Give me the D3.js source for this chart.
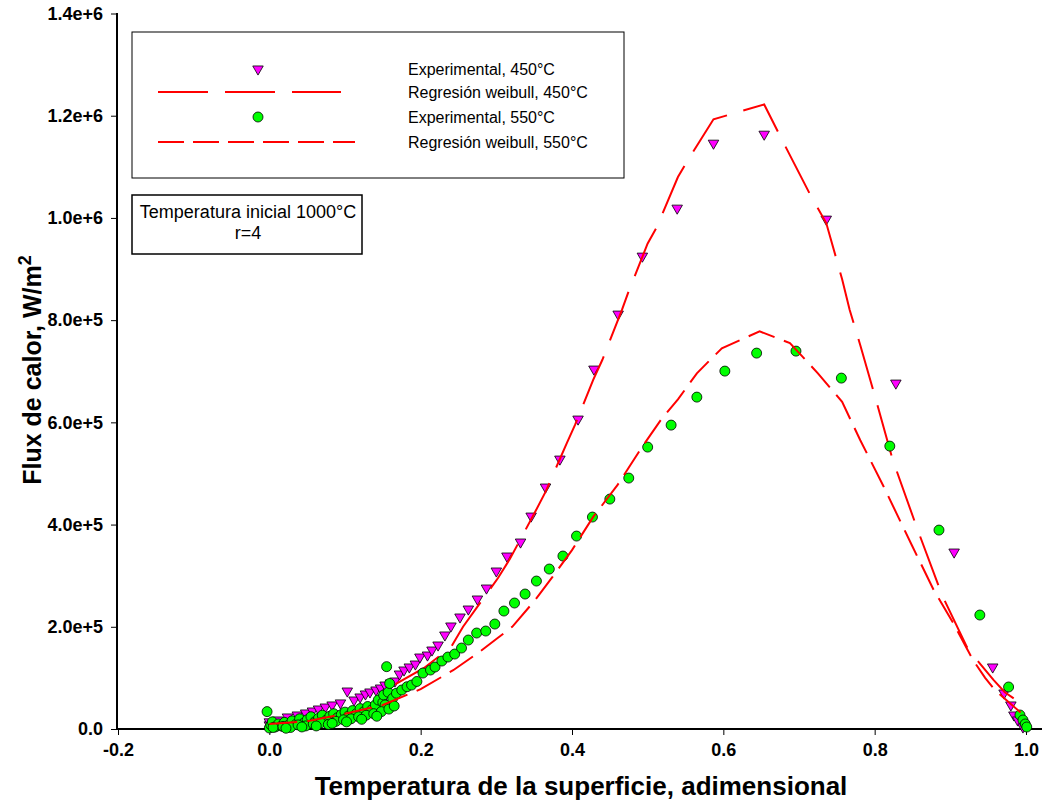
<!DOCTYPE html>
<html>
<head>
<meta charset="utf-8">
<script src="https://cdn.jsdelivr.net/npm/d3@7"></script>
<style>
  html, body { margin: 0; padding: 0; background: #fff; }
  svg { display: block; font-family: "Liberation Sans", Arial, sans-serif; }
</style>
</head>
<body>
<svg id="chart" width="1042" height="800"></svg>
<script>
// ---------------- data ----------------
const xTicks = [-0.2, 0.0, 0.2, 0.4, 0.6, 0.8, 1.0];
const yTicks = [0, 2e5, 4e5, 6e5, 8e5, 1.0e6, 1.2e6, 1.4e6];

const legendLabels = ["Experimental, 450°C", "Regresión weibull, 450°C", "Experimental, 550°C", "Regresión weibull, 550°C"];
const noteLines = ["Temperatura inicial 1000°C", "r=4"];
const xTitle = "Temperatura de la superficie, adimensional";

// Experimental 450°C (triangles)
const exp450X = [0.000, 0.000, 0.011, 0.024, 0.037, 0.048, 0.057, 0.065, 0.074, 0.083, 0.094, 0.103, 0.112, 0.120, 0.127, 0.133, 0.141, 0.147, 0.153, 0.160, 0.166, 0.172, 0.178, 0.185, 0.193, 0.199, 0.209, 0.215, 0.223, 0.232, 0.240, 0.252, 0.263, 0.275, 0.287, 0.300, 0.314, 0.332, 0.346, 0.365, 0.384, 0.408, 0.429, 0.461, 0.493, 0.539, 0.587, 0.654, 0.736, 0.828, 0.905, 0.956, 0.971, 0.980, 0.984, 0.989, 0.996];
const exp450Y = [8000, 14000, 17600, 23500, 27400, 31300, 35200, 39100, 43000, 47000, 51000, 74300, 56700, 62600, 68500, 72400, 76300, 80200, 86000, 90000, 93900, 107600, 115400, 121300, 127100, 140800, 144700, 154500, 164300, 183900, 201500, 219100, 234700, 254300, 275800, 309100, 338400, 365800, 416600, 473400, 528100, 606400, 704200, 811800, 925200, 1019100, 1146200, 1163800, 997600, 676800, 346200, 121300, 70400, 47000, 27400, 17600, 3900];

// Experimental 550°C (circles)
const exp550X = [-0.003, 0.000, 0.002, 0.004, 0.008, 0.012, 0.016, 0.020, 0.025, 0.030, 0.035, 0.040, 0.045, 0.050, 0.055, 0.060, 0.065, 0.070, 0.075, 0.080, 0.085, 0.090, 0.095, 0.100, 0.105, 0.110, 0.115, 0.120, 0.125, 0.130, 0.135, 0.140, 0.144, 0.150, 0.151, 0.153, 0.155, 0.157, 0.159, 0.163, 0.168, 0.175, 0.182, 0.188, 0.195, 0.203, 0.213, 0.219, 0.228, 0.236, 0.245, 0.254, 0.263, 0.274, 0.286, 0.298, 0.310, 0.324, 0.338, 0.353, 0.370, 0.388, 0.406, 0.427, 0.450, 0.475, 0.500, 0.531, 0.565, 0.602, 0.644, 0.696, 0.756, 0.820, 0.885, 0.939, 0.977, 0.992, 0.996, 0.999, 1.001,
  0.005, 0.018, 0.028, 0.038, 0.048, 0.058, 0.068, 0.078, 0.088, 0.098, 0.108, 0.118, 0.128, 0.138, 0.148, 0.158, 0.165, 0.022, 0.043, 0.062, 0.083, 0.102, 0.122, 0.142];
const exp550Y = [34000, 2000, 8000, 14000, 4000, 10000, 6000, 13000, 7000, 16000, 9000, 20000, 11000, 18000, 24000, 14000, 21000, 27000, 17000, 25000, 30000, 22000, 28000, 33000, 26000, 36000, 30000, 40000, 34000, 44000, 37000, 47000, 56700, 52000, 66500, 47000, 122000, 72000, 89000, 60000, 70000, 76300, 82700, 86000, 93000, 109500, 115400, 121300, 133000, 140800, 146700, 158400, 174100, 187800, 191700, 205400, 230800, 246500, 264100, 289500, 313000, 338400, 377500, 414700, 449900, 491000, 551600, 594600, 649400, 700300, 735500, 739400, 686600, 553500, 389200, 223000, 82200, 27400, 17600, 9800, 3900,
  3000, 5000, 3000, 8000, 6000, 10000, 12000, 9000, 15000, 18000, 20000, 24000, 27000, 30000, 34000, 39000, 45000, 1500, 4000, 6000, 11000, 14000, 19000, 25000];

// Weibull regression 450°C (long dash)
const reg450X = [0.000, 0.050, 0.100, 0.150, 0.168, 0.204, 0.240, 0.256, 0.302, 0.318, 0.351, 0.365, 0.393, 0.404, 0.428, 0.440, 0.466, 0.474, 0.500, 0.512, 0.540, 0.553, 0.587, 0.654, 0.682, 0.715, 0.736, 0.757, 0.767, 0.781, 0.800, 0.824, 0.856, 0.889, 0.922, 0.933, 0.957, 0.972, 1.000];
const reg450Y = [12000, 17000, 33000, 50000, 89000, 119000, 160000, 200000, 295000, 333000, 424000, 464000, 559000, 595000, 683000, 722000, 820000, 853000, 950000, 982000, 1080000, 1113000, 1193000, 1222000, 1140000, 1045000, 990000, 880000, 820000, 751000, 653000, 526000, 393000, 262000, 160000, 139000, 96000, 72000, 43000];

// Weibull regression 550°C (short dash)
const reg550X = [0.000, 0.050, 0.100, 0.150, 0.200, 0.243, 0.276, 0.300, 0.321, 0.350, 0.374, 0.400, 0.428, 0.460, 0.490, 0.517, 0.540, 0.565, 0.598, 0.648, 0.688, 0.725, 0.757, 0.781, 0.811, 0.849, 0.878, 0.904, 0.930, 0.946, 0.957, 0.966, 1.000];
const reg550Y = [10000, 15000, 30000, 47000, 78000, 115000, 149000, 176000, 200000, 250000, 297000, 350000, 415000, 477000, 546000, 604000, 645000, 696000, 745000, 778000, 755000, 696000, 640000, 565000, 477000, 360000, 272000, 207000, 135000, 100000, 80000, 67000, 23000];

// ---------------- chart ----------------
const svg = d3.select("#chart");
const x = d3.scaleLinear().domain([-0.2, 1.0]).range([118, 1026]);
const y = d3.scaleLinear().domain([0, 1.4e6]).range([729, 13.5]);

// axes
const gx = svg.append("g").attr("transform", "translate(0,729)");
gx.call(d3.axisBottom(x).tickValues(xTicks).tickSize(6).tickSizeOuter(0).tickFormat(d => d.toFixed(1)));
gx.select(".domain").remove();
gx.append("line").attr("x1", 117).attr("x2", 1042).attr("y1", 0).attr("y2", 0)
  .attr("stroke", "#000").attr("stroke-width", 2);
gx.selectAll(".tick line").attr("stroke", "#000").attr("stroke-width", 1);
gx.selectAll(".tick text").attr("fill", "#000").attr("font-size", 18).attr("font-weight", "bold")
  .attr("font-family", "'Liberation Sans', Arial, sans-serif").attr("dy", "1.05em").attr("y", 8);

const gy = svg.append("g").attr("transform", "translate(117,0)");
gy.call(d3.axisLeft(y).tickValues(yTicks).tickSize(6).tickSizeOuter(0)
  .tickFormat(d => d === 0 ? "0.0" : d3.format(".1e")(d)));
gy.select(".domain").remove();
gy.append("line").attr("x1", 0).attr("x2", 0).attr("y1", 13).attr("y2", 730)
  .attr("stroke", "#000").attr("stroke-width", 2);
gy.selectAll(".tick line").attr("stroke", "#000").attr("stroke-width", 1);
gy.selectAll(".tick text").attr("fill", "#000").attr("font-size", 18).attr("font-weight", "bold")
  .attr("font-family", "'Liberation Sans', Arial, sans-serif").attr("x", -14);

// axis titles
svg.append("text").attr("x", 581).attr("y", 795).attr("text-anchor", "middle")
  .attr("font-size", 26).attr("font-weight", "bold").text(xTitle);
const yt = svg.append("text").attr("transform", "translate(41,370) rotate(-90)")
  .attr("text-anchor", "middle").attr("font-size", 25).attr("font-weight", "bold");
yt.append("tspan").text("Flux de calor, W/m");
yt.append("tspan").attr("font-size", 18).attr("dy", -10).text("2");

// marks
const tri = d3.symbol().type(d3.symbolTriangle).size(48);
const pts450 = exp450X.map((v, i) => [v, exp450Y[i]]);
const pts550 = exp550X.map((v, i) => [v, exp550Y[i]]);
const line = d3.line().x(d => x(d[0])).y(d => y(d[1]));

svg.append("g").selectAll("path").data(pts450).join("path")
  .attr("d", tri)
  .attr("transform", d => `translate(${x(d[0])},${y(d[1])}) rotate(180)`)
  .attr("fill", "#ff00ff").attr("stroke", "#000").attr("stroke-width", 0.8);

svg.append("path").datum(reg450X.map((v, i) => [v, reg450Y[i]]))
  .attr("d", line).attr("fill", "none").attr("stroke", "#ff0000")
  .attr("stroke-width", 2).attr("stroke-dasharray", "52,17");

svg.append("g").selectAll("circle").data(pts550).join("circle")
  .attr("cx", d => x(d[0])).attr("cy", d => y(d[1])).attr("r", 5)
  .attr("fill", "#00ff00").attr("stroke", "#000").attr("stroke-width", 0.8);

svg.append("path").datum(reg550X.map((v, i) => [v, reg550Y[i]]))
  .attr("d", line).attr("fill", "none").attr("stroke", "#ff0000")
  .attr("stroke-width", 2).attr("stroke-dasharray", "28,10");

// legend
const lg = svg.append("g");
lg.append("rect").attr("x", 132).attr("y", 32).attr("width", 492).attr("height", 146)
  .attr("fill", "#fff").attr("stroke", "#000").attr("stroke-width", 1);
const rowsY = [69, 92, 117, 142];
legendLabels.forEach((t, i) => {
  lg.append("text").attr("x", 408).attr("y", rowsY[i]).attr("dy", "0.35em")
    .attr("font-size", 16).text(t);
});
lg.append("path").attr("d", tri).attr("transform", `translate(258,${rowsY[0]}) rotate(180)`)
  .attr("fill", "#ff00ff").attr("stroke", "#000").attr("stroke-width", 0.8);
lg.append("line").attr("x1", 158).attr("x2", 341).attr("y1", rowsY[1]).attr("y2", rowsY[1])
  .attr("stroke", "#ff0000").attr("stroke-width", 2).attr("stroke-dasharray", "50,17");
lg.append("circle").attr("cx", 258).attr("cy", rowsY[2]).attr("r", 5)
  .attr("fill", "#00ff00").attr("stroke", "#000").attr("stroke-width", 0.8);
lg.append("line").attr("x1", 158).attr("x2", 355).attr("y1", rowsY[3]).attr("y2", rowsY[3])
  .attr("stroke", "#ff0000").attr("stroke-width", 2).attr("stroke-dasharray", "26,9");

// annotation box
const nb = svg.append("g");
nb.append("rect").attr("x", 132).attr("y", 195).attr("width", 230).attr("height", 59)
  .attr("fill", "#fff").attr("stroke", "#000").attr("stroke-width", 1.5);
noteLines.forEach((t, i) => {
  nb.append("text").attr("x", 248).attr("y", 212 + i * 21).attr("dy", "0.35em")
    .attr("text-anchor", "middle").attr("font-size", 18).text(t);
});
</script>
</body>
</html>
